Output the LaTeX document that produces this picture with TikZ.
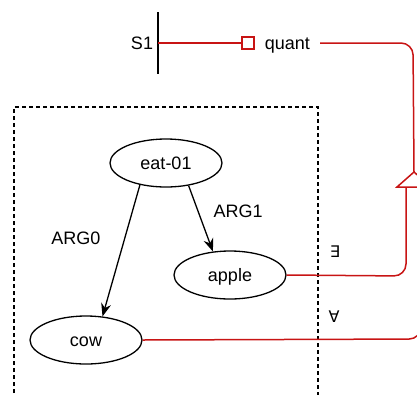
\documentclass[tikz,border=0pt]{standalone}
\usepackage{fontspec}
\setmainfont{Liberation Sans}
\newfontfamily\simbolos{DejaVu Sans}
\usetikzlibrary{arrows.meta, positioning, shapes}
\definecolor{quantred}{RGB}{200,20,20}

\begin{document}
\begin{tikzpicture}[x=1pt, y=-1pt, font=\fontsize{18}{21}\selectfont]

	\tikzstyle{concepto}=[ellipse, draw, line width=1.3pt, minimum width=112pt, minimum height=48pt, inner sep=0pt, text height=13pt, text depth=0pt]
	\tikzstyle{rel}=[-{Stealth[length=13pt, width=10pt]}, line width=1.3pt]
	\tikzstyle{alcance}=[quantred, line width=1.5pt, rounded corners=12pt]
	\tikzstyle{etiqueta}=[inner sep=0pt, text height=13pt, text depth=0pt]

	\useasboundingbox (0,0) rectangle (417,394);
	\clip (0,0) rectangle (417,394);

	% CAJA PUNTEADA
	\draw[line width=1.3pt, dash pattern=on 4pt off 3pt] (14,400) -- (14,107) -- (318,107) -- (318,400);

	\coordinate (bar_top) at (158,12);
	\coordinate (bar_bot) at (158,74);
	\coordinate (bar_mid) at (158,43);
	\coordinate (esq_1) at (413,43); % ESQUINA QUANT
	\coordinate (tri_top) at (414,172); % PUNTA TRIANGULO
	\coordinate (tri_izq) at (397,187);
	\coordinate (tri_der) at (431,187);
	\coordinate (tri_base) at (406,187);
	\coordinate (esq_2) at (406,276); % ESQUINA EXISTE
	\coordinate (esq_3) at (421,339); % ESQUINA PARATODO
	\coordinate (fin_3) at (421,300);

	\node[etiqueta] (s1) at (142,43) {S1};
	\node[draw=quantred, line width=1.3pt, fill=white, minimum size=12pt, inner sep=0pt] (sq) at (248,43) {};
	\node[etiqueta, inner xsep=10pt, right=0pt of sq] (quant) {quant};

	\node[concepto] (eat_01) at (166,163) {eat-01};
	\node[concepto] (apple) at (230,275) {apple};
	\node[concepto] (cow) at (86,340) {cow};

	\draw[line width=1.5pt] (bar_top) -- (bar_bot);
	\draw[alcance] (bar_mid) -- (sq.west);

	\draw[rel] (eat_01.220) -- node[etiqueta, pos=0.4, left=24pt] (arg_0) {ARG0} (cow.55);
	\draw[rel] (eat_01.315) -- node[etiqueta, pos=0.39, right=15pt] (arg_1) {ARG1} (apple.126);

	\draw[alcance] (quant.east) -- (esq_1) -- (tri_top);
	\draw[alcance] (apple.east) -- (esq_2) -- (tri_base);
	\draw[alcance] (cow.east) -- (esq_3) -- (fin_3);
	\draw[quantred, line width=1.5pt, fill=white] (tri_izq) -- (tri_top) -- (tri_der) -- cycle;

	\node[etiqueta, font=\simbolos\fontsize{16}{19}\selectfont] (existe) at (335,251) {∃};
	\node[etiqueta, font=\simbolos\fontsize{16}{19}\selectfont] (paratodo) at (334,316) {∀};
\end{tikzpicture}
\end{document}
